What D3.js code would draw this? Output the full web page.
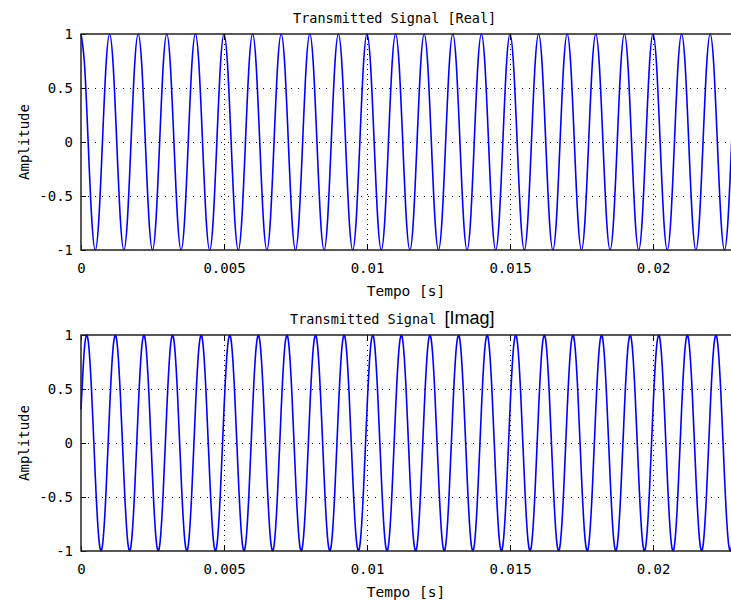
<!DOCTYPE html>
<html>
<head>
<meta charset="utf-8">
<script src="https://cdn.jsdelivr.net/npm/d3@7"></script>
<style>
  body { margin: 0; background: #fff; }
  text { font-family: "DejaVu Sans Mono", monospace; fill: #000; }
</style>
</head>
<body>
<svg id="chart"></svg>
<script>
// samples every 0.125 ms, one row = one 1 ms period
const timeStep = 0.000125;

const realSignal = [
  1, 0.71, 0, -0.71, -1, -0.71, 0, 0.71,
  1, 0.71, 0, -0.71, -1, -0.71, 0, 0.71,
  1, 0.71, 0, -0.71, -1, -0.71, 0, 0.71,
  1, 0.71, 0, -0.71, -1, -0.71, 0, 0.71,
  1, 0.71, 0, -0.71, -1, -0.71, 0, 0.71,
  1, 0.71, 0, -0.71, -1, -0.71, 0, 0.71,
  1, 0.71, 0, -0.71, -1, -0.71, 0, 0.71,
  1, 0.71, 0, -0.71, -1, -0.71, 0, 0.71,
  1, 0.71, 0, -0.71, -1, -0.71, 0, 0.71,
  1, 0.71, 0, -0.71, -1, -0.71, 0, 0.71,
  1, 0.71, 0, -0.71, -1, -0.71, 0, 0.71,
  1, 0.71, 0, -0.71, -1, -0.71, 0, 0.71,
  1, 0.71, 0, -0.71, -1, -0.71, 0, 0.71,
  1, 0.71, 0, -0.71, -1, -0.71, 0, 0.71,
  1, 0.71, 0, -0.71, -1, -0.71, 0, 0.71,
  1, 0.71, 0, -0.71, -1, -0.71, 0, 0.71,
  1, 0.71, 0, -0.71, -1, -0.71, 0, 0.71,
  1, 0.71, 0, -0.71, -1, -0.71, 0, 0.71,
  1, 0.71, 0, -0.71, -1, -0.71, 0, 0.71,
  1, 0.71, 0, -0.71, -1, -0.71, 0, 0.71,
  1, 0.71, 0, -0.71, -1, -0.71, 0, 0.71,
  1, 0.71, 0, -0.71, -1, -0.71, 0, 0.71,
  1, 0.71, 0, -0.71, -1, -0.71, 0, 0.71,
  1, 0.71, 0, -0.71, -1, -0.71, 0, 0.71,
  1
];

const imagSignal = [
  0.31, 0.89, 0.95, 0.45, -0.31, -0.89, -0.95, -0.45,
  0.31, 0.89, 0.95, 0.45, -0.31, -0.89, -0.95, -0.45,
  0.31, 0.89, 0.95, 0.45, -0.31, -0.89, -0.95, -0.45,
  0.31, 0.89, 0.95, 0.45, -0.31, -0.89, -0.95, -0.45,
  0.31, 0.89, 0.95, 0.45, -0.31, -0.89, -0.95, -0.45,
  0.31, 0.89, 0.95, 0.45, -0.31, -0.89, -0.95, -0.45,
  0.31, 0.89, 0.95, 0.45, -0.31, -0.89, -0.95, -0.45,
  0.31, 0.89, 0.95, 0.45, -0.31, -0.89, -0.95, -0.45,
  0.31, 0.89, 0.95, 0.45, -0.31, -0.89, -0.95, -0.45,
  0.31, 0.89, 0.95, 0.45, -0.31, -0.89, -0.95, -0.45,
  0.31, 0.89, 0.95, 0.45, -0.31, -0.89, -0.95, -0.45,
  0.31, 0.89, 0.95, 0.45, -0.31, -0.89, -0.95, -0.45,
  0.31, 0.89, 0.95, 0.45, -0.31, -0.89, -0.95, -0.45,
  0.31, 0.89, 0.95, 0.45, -0.31, -0.89, -0.95, -0.45,
  0.31, 0.89, 0.95, 0.45, -0.31, -0.89, -0.95, -0.45,
  0.31, 0.89, 0.95, 0.45, -0.31, -0.89, -0.95, -0.45,
  0.31, 0.89, 0.95, 0.45, -0.31, -0.89, -0.95, -0.45,
  0.31, 0.89, 0.95, 0.45, -0.31, -0.89, -0.95, -0.45,
  0.31, 0.89, 0.95, 0.45, -0.31, -0.89, -0.95, -0.45,
  0.31, 0.89, 0.95, 0.45, -0.31, -0.89, -0.95, -0.45,
  0.31, 0.89, 0.95, 0.45, -0.31, -0.89, -0.95, -0.45,
  0.31, 0.89, 0.95, 0.45, -0.31, -0.89, -0.95, -0.45,
  0.31, 0.89, 0.95, 0.45, -0.31, -0.89, -0.95, -0.45,
  0.31, 0.89, 0.95, 0.45, -0.31, -0.89, -0.95, -0.45,
  0.31
];

const xTicks = [0, 0.005, 0.01, 0.015, 0.02];
const yTicks = [-1, -0.5, 0, 0.5, 1];
const xMax = 0.025;

const width = 731;
const height = 603;

const svg = d3.select('#chart')
  .attr('width', width)
  .attr('height', height);

svg.append('rect').attr('width', width).attr('height', height).attr('fill', '#fff');

function drawPanel(values, top, bottom, titleMain, titleTail, titleX, tailFont) {
  const left = 81;
  const x = d3.scaleLinear().domain([0, xMax]).range([left, left + xMax * 28600]);
  const y = d3.scaleLinear().domain([-1, 1]).range([bottom, top]);

  const g = svg.append('g');

  // dotted grid
  g.append('g').selectAll('line')
    .data(xTicks.slice(1))
    .enter().append('line')
      .attr('x1', d => Math.round(x(d)) + 0.5)
      .attr('x2', d => Math.round(x(d)) + 0.5)
      .attr('y1', top).attr('y2', bottom)
      .attr('stroke', '#000')
      .attr('stroke-width', 1)
      .attr('stroke-dasharray', '1,4');

  g.append('g').selectAll('line')
    .data(yTicks.slice(1, -1))
    .enter().append('line')
      .attr('x1', left).attr('x2', width)
      .attr('y1', d => Math.round(y(d)) + 0.5)
      .attr('y2', d => Math.round(y(d)) + 0.5)
      .attr('stroke', '#000')
      .attr('stroke-width', 1)
      .attr('stroke-dasharray', '1,6');

  // signal
  const line = d3.line()
    .x((d, i) => x(i * timeStep))
    .y(d => y(d))
    .curve(d3.curveNatural);

  g.append('path')
    .datum(values)
    .attr('fill', 'none')
    .attr('stroke', '#0000ff')
    .attr('stroke-width', 1.6)
    .attr('d', line);

  // axes, ticks pointing in
  g.append('g')
    .attr('transform', `translate(0, ${bottom})`)
    .call(d3.axisBottom(x).tickValues(xTicks).tickFormat(d => String(d))
      .tickSizeInner(-5).tickSizeOuter(0).tickPadding(13))
    .call(a => a.select('.domain').remove())
    .call(a => a.selectAll('text').attr('font-size', 14).attr('font-family', '"DejaVu Sans Mono", monospace'));

  g.append('g')
    .attr('transform', `translate(0, ${top})`)
    .call(d3.axisTop(x).tickValues(xTicks).tickFormat('')
      .tickSizeInner(-5).tickSizeOuter(0))
    .call(a => a.select('.domain').remove());

  g.append('g')
    .attr('transform', `translate(${left}, 0)`)
    .call(d3.axisLeft(y).tickValues(yTicks).tickFormat(d => String(d))
      .tickSizeInner(-5).tickSizeOuter(0).tickPadding(8))
    .call(a => a.select('.domain').remove())
    .call(a => a.selectAll('text').attr('font-size', 14).attr('font-family', '"DejaVu Sans Mono", monospace'));

  // frame
  g.append('path')
    .attr('d', `M${width},${top}H${left}V${bottom}H${width}`)
    .attr('fill', 'none')
    .attr('stroke', '#222')
    .attr('stroke-width', 1.5);

  const title = g.append('text')
    .attr('x', titleX)
    .attr('y', top - 11)
    .attr('font-size', 13.5)
    .attr('xml:space', 'preserve')
    .text(titleMain);
  const tail = title.append('tspan').text(titleTail);
  if (tailFont) {
    tail.attr('font-family', tailFont).attr('font-size', 18);
  }

  g.append('text')
    .attr('x', 406)
    .attr('y', bottom + 46)
    .attr('text-anchor', 'middle')
    .attr('font-size', 14.5)
    .text('Tempo [s]');

  g.append('text')
    .attr('transform', `translate(29, ${(top + bottom) / 2}) rotate(-90)`)
    .attr('text-anchor', 'middle')
    .attr('font-size', 14)
    .text('Amplitude');
}

drawPanel(realSignal, 34, 250, 'Transmitted Signal ', '[Real]', 293, null);
drawPanel(imagSignal, 335, 551, 'Transmitted Signal ', '[Imag]', 290, '"Liberation Sans", Arial, sans-serif');
</script>
</body>
</html>
